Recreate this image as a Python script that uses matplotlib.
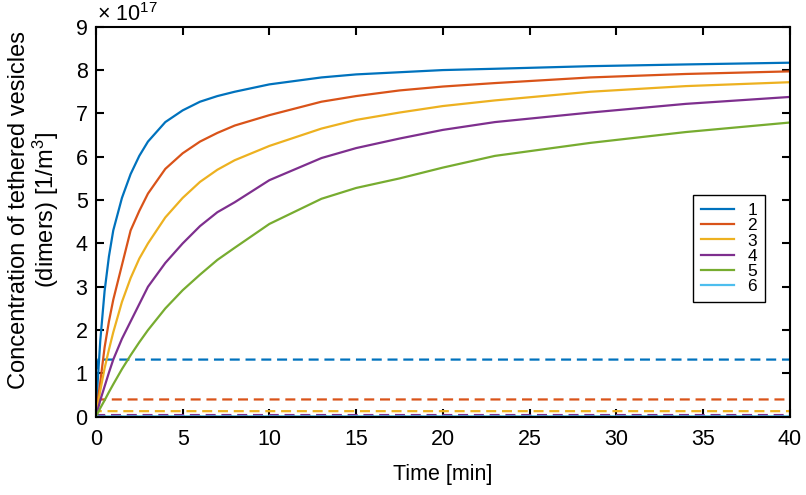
import matplotlib
matplotlib.use("Agg")
import matplotlib.pyplot as plt

# time grid [min]
t = [0, 0.1, 0.25, 0.5, 0.75, 1, 1.5, 2, 2.5, 3, 4, 5, 6, 7, 8, 10, 13, 15,
     17.5, 20, 23, 28.5, 34, 40]

# tethered vesicle concentration, units of 1e17 1/m^3
c1 = [0, 0.8, 1.75, 2.9, 3.7, 4.3, 5.05, 5.6, 6.02, 6.35, 6.8, 7.07, 7.27, 7.4,
      7.5, 7.67, 7.83, 7.9, 7.95, 8.0, 8.03, 8.09, 8.13, 8.17]
c2 = [0, 0.35, 0.8, 1.6, 2.2, 2.7, 3.5, 4.3, 4.75, 5.15, 5.72, 6.08, 6.35, 6.55,
      6.72, 6.96, 7.27, 7.4, 7.53, 7.62, 7.7, 7.83, 7.91, 7.97]
c3 = [0, 0.25, 0.6, 1.12, 1.55, 1.95, 2.65, 3.2, 3.65, 4.0, 4.6, 5.05, 5.42, 5.7,
      5.92, 6.25, 6.65, 6.85, 7.02, 7.17, 7.3, 7.5, 7.63, 7.72]
c4 = [0, 0.15, 0.38, 0.7, 1.02, 1.32, 1.8, 2.2, 2.6, 3.0, 3.55, 4.0, 4.4, 4.72,
      4.95, 5.46, 5.97, 6.2, 6.42, 6.62, 6.8, 7.02, 7.22, 7.38]
c5 = [0, 0.08, 0.2, 0.38, 0.57, 0.75, 1.1, 1.42, 1.72, 2.0, 2.5, 2.92, 3.28, 3.62,
      3.9, 4.45, 5.03, 5.28, 5.5, 5.75, 6.02, 6.32, 6.57, 6.79]
c6 = [0, 0.005, 0.006, 0.007, 0.008, 0.008, 0.009, 0.009, 0.01, 0.01, 0.01, 0.01,
      0.01, 0.01, 0.01, 0.01, 0.01, 0.01, 0.01, 0.01, 0.01, 0.01, 0.01, 0.01]

# dashed curves: jump to a plateau right after t=0
t_d = [0, 0.1, 40]
d1 = [0, 1.32, 1.32]
d2 = [0, 0.40, 0.40]
d3 = [0, 0.13, 0.13]
d4 = [0, 0.04, 0.04]
d5 = [0, 0.012, 0.012]
d6 = [0, 0.003, 0.003]

labels = ['1', '2', '3', '4', '5', '6']
colors = ['#0072BD', '#D95319', '#EDB120', '#7E2F8E', '#77AC30', '#4DBEEE']

plt.rcParams['font.family'] = ['Liberation Sans', 'DejaVu Sans']
plt.rcParams['mathtext.fontset'] = 'custom'
plt.rcParams['mathtext.rm'] = 'Liberation Sans'
plt.rcParams['mathtext.it'] = 'Liberation Sans:italic'

fig = plt.figure(figsize=(8.06, 4.95), dpi=100)
ax = fig.add_axes([0.119, 0.158, 0.861, 0.788])

solid = [c1, c2, c3, c4, c5, c6]
dashed = [d1, d2, d3, d4, d5, d6]
for ys, col in zip(dashed[::-1], colors[::-1]):
    ax.plot(t_d, ys, color=col, lw=1.6, dashes=(4.5, 2.6))
handles = []
for ys, col, lab in zip(solid, colors, labels):
    h, = ax.plot(t, ys, color=col, lw=1.6, label=lab)
    handles.append(h)

ax.set_xlim(0, 40)
ax.set_ylim(0, 9)
ax.set_xticks(range(0, 41, 5))
ax.set_yticks(range(0, 10))
ax.tick_params(direction='in', length=6, width=1.5, top=True, right=True,
               labelsize=15.5)
ax.tick_params(axis='x', pad=9)
ax.tick_params(axis='y', pad=6)
for s in ax.spines.values():
    s.set_linewidth(1.5)

ax.set_xlabel('Time [min]', fontsize=15.5, labelpad=10)
ax.set_ylabel('Concentration of tethered vesicles\n(dimers) [1/m$^3$]',
              fontsize=17, linespacing=1.05)
ax.yaxis.set_label_coords(-0.05, 0.53)
ax.text(0.001, 1.015, '× 10$^{17}$', transform=ax.transAxes,
        fontsize=15.5, ha='left', va='baseline')

leg = ax.legend(handles=handles, loc='upper left', bbox_to_anchor=(0.861, 0.568),
                borderaxespad=0, fontsize=12.5, handlelength=1.9,
                labelspacing=0.0, handletextpad=0.75, borderpad=0.45,
                fancybox=False, framealpha=1, edgecolor='black')
leg.get_frame().set_linewidth(1.0)

fig.savefig('out.png', dpi=100)
